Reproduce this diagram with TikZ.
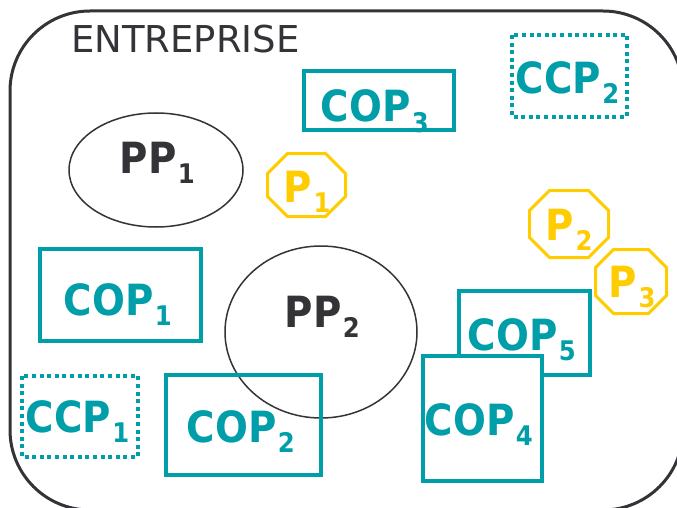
\documentclass[tikz,border=0pt]{standalone}
\usepackage{fontspec}
\setmainfont{DejaVu Sans}
\newfontfamily\labfont{DejaVu Sans}[FakeStretch=0.9]
\definecolor{copteal}{RGB}{0,158,168}
\definecolor{ppgray}{RGB}{51,51,56}
\definecolor{pyel}{RGB}{255,204,0}
\newcommand\lbl[2]{#1\kern1.5pt\raisebox{-10pt}{\fontsize{27}{27}\selectfont #2}}
\newcommand\octo[5]{\draw[octo] (#1+#5,#2) -- (#3-#5,#2) -- (#3,#2+#5) -- (#3,#4-#5) -- (#3-#5,#4) -- (#1+#5,#4) -- (#1,#4-#5) -- (#1,#2+#5) -- cycle;}
\tikzset{
  copbox/.style={draw=copteal, line width=4pt},
  ccpbox/.style={draw=copteal, line width=4pt, dash pattern=on 4pt off 3.6pt},
  ppell/.style={draw=ppgray, line width=1.5pt},
  octo/.style={draw=pyel, line width=3pt, line join=miter},
  lab/.style={anchor=base west, inner sep=0pt, font=\labfont\bfseries\fontsize{43}{43}\selectfont},
  coplab/.style={lab, text=copteal},
  pplab/.style={lab, text=ppgray},
  plab/.style={lab, text=pyel}
}
\begin{document}
\begin{tikzpicture}[x=1pt, y=-1pt]
\useasboundingbox (0,0) rectangle (677,508);
\clip (0,0) rectangle (677,508);
% enterprise frame
\draw[ppgray, line width=3pt, rounded corners=80pt] (10,11) rectangle (683,510);
\node[anchor=base west, inner sep=0pt, text=ppgray, font=\fontsize{37}{37}\selectfont] (ent) at (71,53) {ENTREPRISE};
% ellipses
\draw[ppell] (156,170) ellipse [x radius=87, y radius=57];
\draw[ppell] (321,332) ellipse [x radius=96, y radius=86];
% COP boxes
\draw[copbox] (40,249) rectangle (201,341);
\draw[copbox] (166,375) rectangle (321,475);
\draw[copbox] (304,71) rectangle (454,130);
\draw[copbox] (459,291) rectangle (590,375);
\draw[copbox, fill=white] (423,356) rectangle (542,481);
% CCP boxes
\draw[ccpbox] (22,376) rectangle (138,457);
\draw[ccpbox] (512,35) rectangle (627,117);
% octagons
\octo{267.5}{153.5}{345.5}{216.5}{20}
\octo{529.5}{190.5}{608.5}{257.5}{20}
\octo{595.5}{249.5}{666.5}{313.5}{18}
% labels
\node[coplab] (cop1) at (63.5,315) {\lbl{COP}{1}};
\node[coplab] (cop2) at (186.5,442) {\lbl{COP}{2}};
\node[coplab] (cop3) at (320.5,122) {\lbl{COP}{3}};
\node[coplab] (cop4) at (424.5,435) {\lbl{COP}{4}};
\node[coplab] (cop5) at (467.5,350) {\lbl{COP}{5}};
\node[coplab] (ccp1) at (25.5,432) {\lbl{CCP}{1}};
\node[coplab] (ccp2) at (515.5,94) {\lbl{CCP}{2}};
\node[pplab] (pp1) at (119.5,173) {\lbl{PP}{1}};
\node[pplab] (pp2) at (284.5,327) {\lbl{PP}{2}};
\node[plab] (p1) at (283.5,202) {\lbl{P}{1}};
\node[plab] (p2) at (545.5,240) {\lbl{P}{2}};
\node[plab] (p3) at (608.5,297) {\lbl{P}{3}};
\end{tikzpicture}
\end{document}
